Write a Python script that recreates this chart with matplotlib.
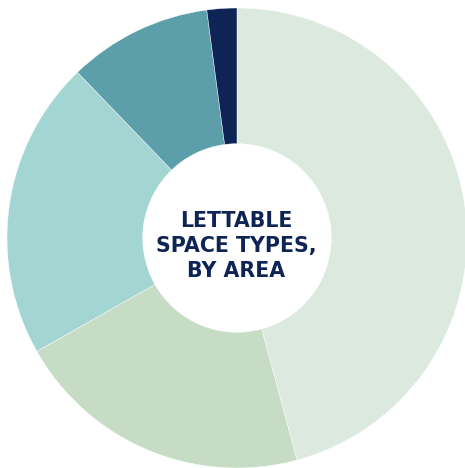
import matplotlib
matplotlib.use("Agg")
import matplotlib.pyplot as plt

# Share of lettable area by space type, clockwise from 12 o'clock
space_types = ["Type A", "Type B", "Type C", "Type D", "Type E"]
area_share = [45.8, 21.0, 21.0, 10.1, 2.1]
slice_colors = ["#dce9de", "#c6dcc5", "#a3d6d2", "#5c9fab", "#0d2455"]

centre_label = "LETTABLE\nSPACE TYPES,\nBY AREA"

fig = plt.figure(figsize=(4.65, 4.68), dpi=100)
ax = fig.add_axes([0, 0, 1, 1])

ax.pie(
    area_share,
    labels=None,
    colors=slice_colors,
    startangle=90,
    counterclock=False,
    radius=1.0,
    wedgeprops=dict(width=0.59, edgecolor="white", linewidth=0.3),
)

ax.text(
    -0.005, -0.035, centre_label,
    ha="center", va="center",
    fontsize=14.8, fontweight="bold", family=["DejaVu Sans"],
    color="#0d2455", linespacing=1.3,
)

# place the ring so the centre sits slightly left of the canvas middle
scale = 230.0
ax.set_xlim(-237 / scale, (465 - 237) / scale)
ax.set_ylim(-(468 - 238) / scale, 238 / scale)
ax.set_aspect("auto")
ax.axis("off")

fig.savefig("out.png", dpi=100, facecolor="white")
